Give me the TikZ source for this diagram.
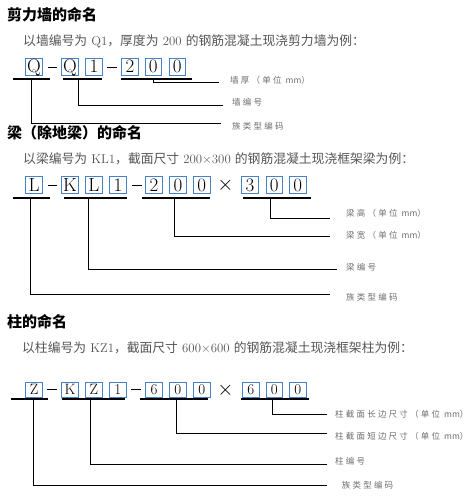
\documentclass[tikz,border=0pt]{standalone}
\usepackage{fontspec}
\newfontfamily\cjk{Noto Sans CJK SC}
\newfontfamily\cjks[LetterSpace=26]{Noto Sans CJK SC}
\newcommand{\zh}[1]{{\cjk #1}}
\newcommand{\mmunit}{{\cjk mm}}
\definecolor{boxblue}{RGB}{70,130,200}
\definecolor{subgray}{RGB}{85,85,85}
\definecolor{lblgray}{RGB}{110,110,110}
\tikzset{
  titletext/.style={anchor=west,inner sep=0,font=\cjk\bfseries\fontsize{15}{15}\selectfont},
  subtext/.style={anchor=west,inner sep=0,text=subgray,font=\fontsize{12.8}{12.8}\selectfont},
  lbltext/.style={anchor=west,inner sep=0,text=lblgray,font=\cjks\fontsize{8.5}{8.5}\selectfont},
  bigbox/.style={draw=boxblue,line width=0.7pt,minimum width=16.6pt,minimum height=17pt,inner sep=0,text height=12.2pt,text depth=0pt,font=\fontsize{19}{19}\selectfont},
  smallbox/.style={draw=boxblue,line width=0.7pt,minimum width=16.6pt,minimum height=15pt,inner sep=0,text height=9.7pt,text depth=0pt,font=\fontsize{15}{15}\selectfont},
  timesmark/.style={inner sep=0,font=\fontsize{22}{22}\selectfont},
  dashline/.style={line width=0.8pt},
  uline/.style={line width=2pt},
  leader/.style={line width=0.9pt}
}
\begin{document}
\begin{tikzpicture}[x=1pt,y=-1pt]
\useasboundingbox (0,0) rectangle (474,501);
% ---------- Section 1 ----------
\node[titletext] (t1) at (7,15) {剪力墙的命名};
\node[subtext] (s1) at (23,41) {\zh{以墙编号为} Q1\zh{，厚度为} 200 \zh{的钢筋混凝土现浇剪力墙为例：}};
\node[bigbox] (a1) at (34,66.5) {Q};
\node[bigbox] (a2) at (70,66.5) {Q};
\node[bigbox] (a3) at (93.9,66.5) {1};
\node[bigbox] (a4) at (130,66.5) {2};
\node[bigbox] (a5) at (153.3,66.5) {0};
\node[bigbox] (a6) at (177.3,66.5) {0};
\coordinate (ad1a) at (48,67); \coordinate (ad1b) at (57,67);
\coordinate (ad2a) at (107,67); \coordinate (ad2b) at (117,67);
\draw[dashline] (ad1a) -- (ad1b);
\draw[dashline] (ad2a) -- (ad2b);
\coordinate (au1a) at (13,79); \coordinate (au1b) at (50,79);
\coordinate (au2a) at (63,79); \coordinate (au2b) at (102,79);
\coordinate (au3a) at (121,79); \coordinate (au3b) at (192,79);
\draw[uline] (au1a) -- (au1b);
\draw[uline] (au2a) -- (au2b);
\draw[uline] (au3a) -- (au3b);
\coordinate (ae1) at (219,82.3);
\coordinate (ae2) at (222.7,105);
\coordinate (ae3) at (220.7,123.3);
\coordinate (as3) at (31,79);
\draw[leader] (a5.center |- au3a) |- (ae1);
\draw[leader] (a2.east |- au2a) |- (ae2);
\draw[leader] (as3) |- (ae3);
\node[lbltext] (al1) at (230,80) {墙厚（单位 \mmunit）};
\node[lbltext] (al2) at (232,102) {墙编号};
\node[lbltext] (al3) at (232,126) {族类型编码};
% ---------- Section 2 ----------
\node[titletext] (t2) at (7,133) {梁（除地梁）的命名};
\node[subtext] (s2) at (23,159) {\zh{以梁编号为} KL1\zh{，截面尺寸} 200×300 \zh{的钢筋混凝土现浇框架梁为例：}};
\node[bigbox] (b1) at (34,185) {L};
\node[bigbox] (b2) at (70,185) {K};
\node[bigbox] (b3) at (93.9,185) {L};
\node[bigbox] (b4) at (118,185) {1};
\node[bigbox] (b5) at (154,185) {2};
\node[bigbox] (b6) at (177.9,185) {0};
\node[bigbox] (b7) at (201.7,185) {0};
\node[timesmark] (bx) at (225.5,185) {$\times$};
\node[bigbox] (b8) at (250,185) {3};
\node[bigbox] (b9) at (274.2,185) {0};
\node[bigbox] (b10) at (297.7,185) {0};
\coordinate (bd1a) at (48,185); \coordinate (bd1b) at (57,185);
\coordinate (bd2a) at (131.7,185); \coordinate (bd2b) at (141.7,185);
\draw[dashline] (bd1a) -- (bd1b);
\draw[dashline] (bd2a) -- (bd2b);
\coordinate (bu1a) at (13,198.3); \coordinate (bu1b) at (50,198.3);
\coordinate (bu2a) at (64,198.3); \coordinate (bu2b) at (126.7,198.3);
\coordinate (bu3a) at (142.3,198.3); \coordinate (bu3b) at (210,198.3);
\coordinate (bu4a) at (242.7,198.3); \coordinate (bu4b) at (311,198.3);
\draw[uline] (bu1a) -- (bu1b);
\draw[uline] (bu2a) -- (bu2b);
\draw[uline] (bu3a) -- (bu3b);
\draw[uline] (bu4a) -- (bu4b);
\coordinate (bs1) at (270.7,198.3); \coordinate (be1) at (330,218.3);
\coordinate (bs2) at (174.3,198.3); \coordinate (be2) at (330,236);
\coordinate (bs3) at (88.3,198.3); \coordinate (be3) at (336.7,269);
\coordinate (bs4) at (30.7,198.3); \coordinate (be4) at (330,294);
\draw[leader] (bs1) |- (be1);
\draw[leader] (bs2) |- (be2);
\draw[leader] (bs3) |- (be3);
\draw[leader] (bs4) |- (be4);
\node[lbltext] (bl1) at (346,213) {梁高（单位 \mmunit）};
\node[lbltext] (bl2) at (346,235) {梁宽（单位 \mmunit）};
\node[lbltext] (bl3) at (346,267.7) {梁编号};
\node[lbltext] (bl4) at (346,297.7) {族类型编码};
% ---------- Section 3 ----------
\node[titletext] (t3) at (7,321.7) {柱的命名};
\node[subtext] (s3) at (22,347.3) {\zh{以柱编号为} KZ1\zh{，截面尺寸} 600×600 \zh{的钢筋混凝土现浇框架柱为例：}};
\node[smallbox] (c1) at (34,389.8) {Z};
\node[smallbox] (c2) at (70,389.8) {K};
\node[smallbox] (c3) at (93.9,389.8) {Z};
\node[smallbox] (c4) at (117.7,389.8) {1};
\node[smallbox] (c5) at (154,389.8) {6};
\node[smallbox] (c6) at (177.9,389.8) {0};
\node[smallbox] (c7) at (201.7,389.8) {0};
\node[timesmark] (cx) at (225.5,390) {$\times$};
\node[smallbox] (c8) at (250.7,389.8) {6};
\node[smallbox] (c9) at (274.2,389.8) {0};
\node[smallbox] (c10) at (297.7,389.8) {0};
\coordinate (cd1a) at (46.7,389); \coordinate (cd1b) at (56.7,389);
\coordinate (cd2a) at (131,389); \coordinate (cd2b) at (141,389);
\draw[dashline] (cd1a) -- (cd1b);
\draw[dashline] (cd2a) -- (cd2b);
\coordinate (cu1a) at (11,399.3); \coordinate (cu1b) at (47.7,399.3);
\coordinate (cu2a) at (62.3,399.3); \coordinate (cu2b) at (125,399.3);
\coordinate (cu3a) at (140,399.3); \coordinate (cu3b) at (208.3,399.3);
\coordinate (cu4a) at (241,399.3); \coordinate (cu4b) at (309,399.3);
\draw[uline] (cu1a) -- (cu1b);
\draw[uline] (cu2a) -- (cu2b);
\draw[uline] (cu3a) -- (cu3b);
\draw[uline] (cu4a) -- (cu4b);
\coordinate (cs1) at (272.7,399.3); \coordinate (ce1) at (326.7,414.3);
\coordinate (cs2) at (176.7,399.3); \coordinate (ce2) at (326.7,433);
\coordinate (cs3) at (90.7,399.3); \coordinate (ce3) at (326.7,464);
\coordinate (cs4) at (33.3,399.3); \coordinate (ce4) at (326.7,485.7);
\draw[leader] (cs1) |- (ce1);
\draw[leader] (cs2) |- (ce2);
\draw[leader] (cs3) |- (ce3);
\draw[leader] (cs4) |- (ce4);
\node[lbltext] (cl1) at (335,414) {柱截面长边尺寸（单位 \mmunit）};
\node[lbltext] (cl2) at (335,436) {柱截面短边尺寸（单位 \mmunit）};
\node[lbltext] (cl3) at (335,461.7) {柱编号};
\node[lbltext] (cl4) at (341.7,485) {族类型编码};
\end{tikzpicture}
\end{document}
